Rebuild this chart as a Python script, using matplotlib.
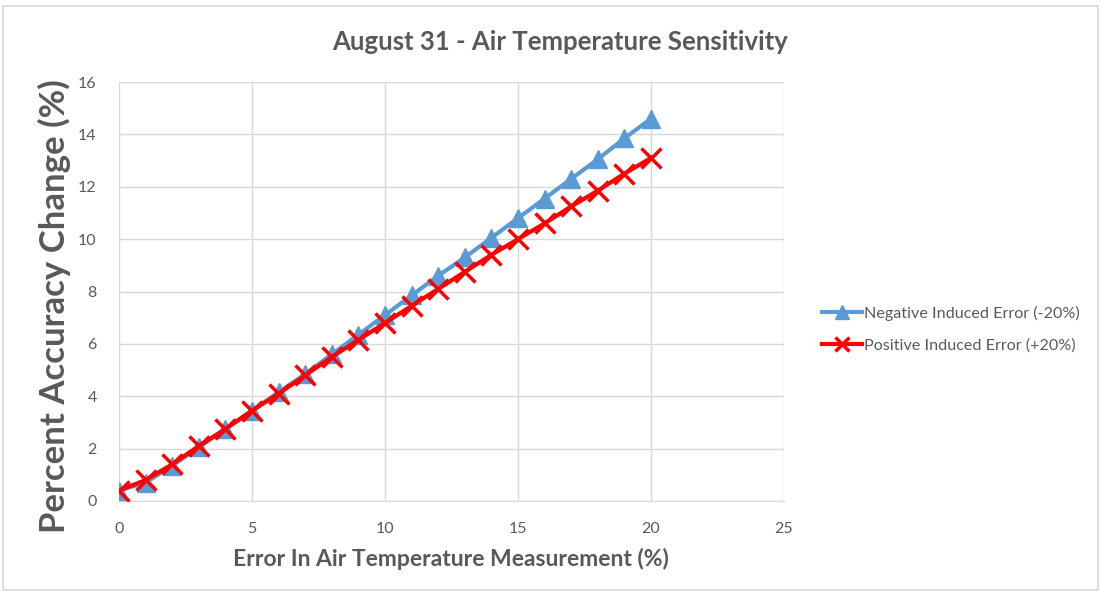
import matplotlib
matplotlib.use("Agg")
import matplotlib.pyplot as plt
from matplotlib.patches import Rectangle

x_vals = list(range(0, 21))
neg_err = [0.4, 0.7, 1.35, 2.05, 2.75, 3.45, 4.15, 4.85, 5.6, 6.35, 7.1, 7.85, 8.6, 9.3,
           10.05, 10.8, 11.55, 12.3, 13.05, 13.85, 14.6]
pos_err = [0.4, 0.8, 1.4, 2.1, 2.75, 3.45, 4.1, 4.8, 5.5, 6.15, 6.8, 7.45, 8.1, 8.75,
           9.4, 10.0, 10.6, 11.25, 11.85, 12.5, 13.1]
x_ticks = [0, 5, 10, 15, 20, 25]
y_ticks = [0, 2, 4, 6, 8, 10, 12, 14, 16]

title = "August 31 - Air Temperature Sensitivity"
xlabel = "Error In Air Temperature Measurement (%)"
ylabel = "Percent Accuracy Change (%)"
labels = ["Negative Induced Error (-20%)", "Positive Induced Error (+20%)"]

plt.rcParams['font.family'] = ['Lato', 'DejaVu Sans']
gray = "#595959"

W, H = 1101, 592
fig = plt.figure(figsize=(W / 100, H / 100), dpi=100)
fig.patches.append(Rectangle((0.003, 0.003), 0.994, 0.987, transform=fig.transFigure,
                             fill=False, edgecolor="#d9d9d9", linewidth=1.2))
ax = fig.add_axes([119 / W, 1 - 501 / H, (784 - 119) / W, (501 - 82) / H])

ax.plot(x_vals, neg_err, color="#5B9BD5", linewidth=3, marker="^", markersize=13,
        label=labels[0], zorder=3)
ax.plot(x_vals, pos_err, color="#FF0000", linewidth=3, marker="x", markersize=14,
        markeredgewidth=2.5, label=labels[1], zorder=4)

ax.set_xlim(0, 25)
ax.set_ylim(0, 16)
ax.set_xticks(x_ticks)
ax.set_yticks(y_ticks)
ax.grid(True, color="#d9d9d9", linewidth=1)
ax.set_axisbelow(True)
for s in ["top", "right", "left"]:
    ax.spines[s].set_visible(False)
ax.spines["bottom"].set_color("#d9d9d9")
ax.tick_params(axis="y", length=0, colors=gray, labelsize=11.5, pad=16)
ax.tick_params(axis="x", length=0, colors=gray, labelsize=11.5, pad=15)

fig.text(560 / W, 1 - 42 / H, title, fontsize=18.5, fontweight="bold", color=gray,
         ha="center", va="center")
fig.text(451 / W, 1 - 559 / H, xlabel, fontsize=16.5, fontweight="bold", color=gray,
         ha="center", va="center")
fig.text(54 / W, 1 - 306 / H, ylabel, fontsize=25, fontweight="bold", color=gray,
         ha="center", va="center", rotation=90)

leg = ax.legend(loc="center left", bbox_to_anchor=(1.035, 0.41), frameon=False,
                fontsize=11.6, labelcolor=gray, handlelength=2.5, handletextpad=0.1,
                labelspacing=1.05, markerscale=0.75)

fig.savefig("out.png", dpi=100)
